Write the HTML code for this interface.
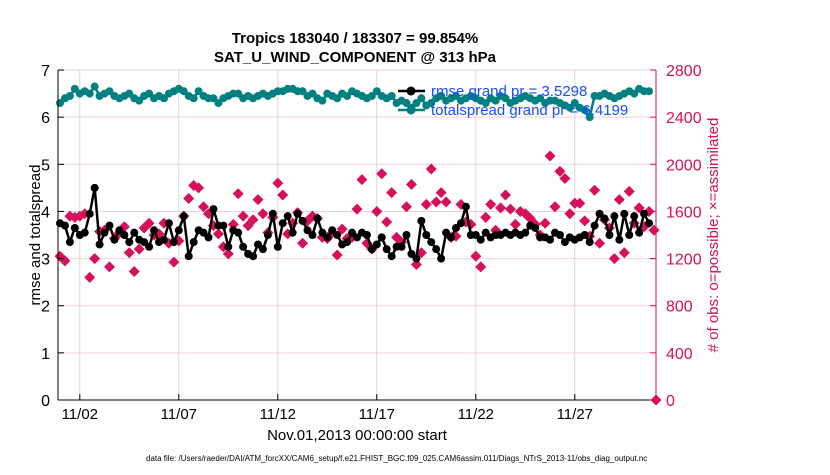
<!DOCTYPE html>
<html><head><meta charset="utf-8"><style>
body{margin:0;background:#fff;width:830px;height:470px;overflow:hidden;font-family:"Liberation Sans",sans-serif}
</style></head><body>
<svg id="chart" width="830" height="470" xmlns="http://www.w3.org/2000/svg" font-family="Liberation Sans, sans-serif">
<g id="grid"></g>
<g id="series"></g>
<g id="axes"></g>
<text x="355" y="43" font-size="15" font-weight="bold" text-anchor="middle">Tropics 183040 / 183307 = 99.854%</text>
<text x="355" y="62" font-size="15" font-weight="bold" text-anchor="middle">SAT_U_WIND_COMPONENT @ 313 hPa</text>
<text transform="translate(40,235) rotate(-90)" font-size="15" text-anchor="middle">rmse and totalspread</text>
<text transform="translate(718,235) rotate(-90)" font-size="15" fill="#d6105a" text-anchor="middle"># of obs: o=possible; ×=assimilated</text>
<text x="357" y="440" font-size="15" text-anchor="middle">Nov.01,2013 00:00:00 start</text>
<text x="146" y="461" font-size="8">data file: /Users/raeder/DAI/ATM_forcXX/CAM6_setup/f.e21.FHIST_BGC.f09_025.CAM6assim.011/Diags_NTrS_2013-11/obs_diag_output.nc</text>
<g>
<line x1="398" y1="91" x2="425" y2="91" stroke="#000" stroke-width="2.5"/><circle cx="411" cy="91" r="4.5" fill="#000"/>
<line x1="398" y1="110" x2="425" y2="110" stroke="#008080" stroke-width="2.5"/><circle cx="411" cy="110" r="4.5" fill="#008080"/>
<text x="431" y="96" font-size="15" fill="#1a4cff">rmse grand pr = 3.5298</text>
<text x="431" y="115" font-size="15" fill="#1a4cff">totalspread grand pr = 6.4199</text>
</g>
</svg>
<script>
const xTickLabels=["11/02","11/07","11/12","11/17","11/22","11/27"];
const xTickDays=[1,6,11,16,21,26];
const yTicks=[0,1,2,3,4,5,6,7];
const obsTicks=[0,400,800,1200,1600,2000,2400,2800];
const rmse=[3.75,3.7,3.35,3.65,3.5,3.55,3.95,4.5,3.3,3.55,3.7,3.4,3.6,3.5,3.35,3.55,3.4,3.35,3.25,3.6,3.35,3.4,3.75,3.35,3.6,3.9,3.05,3.35,3.6,3.55,3.45,4.05,3.7,3.7,3.25,3.6,3.55,3.25,3.1,3.05,3.3,3.2,3.5,3.95,3.25,3.75,3.9,3.55,3.95,3.8,3.6,3.5,3.85,3.55,3.45,3.6,3.5,3.3,3.35,3.55,3.45,3.55,3.5,3.2,3.3,3.45,3.2,3.05,3.25,3.25,3.5,3.1,3.0,3.8,3.5,3.35,3.2,3.0,3.55,3.45,3.65,3.75,4.1,3.5,3.5,3.4,3.55,3.45,3.5,3.5,3.55,3.5,3.55,3.5,3.55,3.7,3.65,3.45,3.45,3.4,3.55,3.5,3.35,3.45,3.4,3.45,3.5,3.35,3.7,3.95,3.85,3.5,3.9,3.4,3.95,3.5,3.9,3.55,3.95,3.75];
const spread=[6.3,6.4,6.45,6.6,6.5,6.55,6.5,6.65,6.45,6.5,6.55,6.45,6.4,6.45,6.5,6.4,6.35,6.45,6.5,6.4,6.45,6.4,6.5,6.55,6.6,6.55,6.45,6.4,6.55,6.45,6.4,6.4,6.3,6.4,6.45,6.5,6.5,6.4,6.45,6.4,6.45,6.5,6.45,6.5,6.55,6.55,6.6,6.6,6.55,6.55,6.45,6.5,6.4,6.35,6.5,6.45,6.4,6.5,6.45,6.55,6.5,6.45,6.4,6.45,6.55,6.45,6.4,6.45,6.3,6.35,6.3,6.2,6.3,6.4,6.25,6.3,6.4,6.45,6.35,6.4,6.45,6.35,6.4,6.45,6.4,6.35,6.3,6.4,6.35,6.45,6.4,6.3,6.35,6.4,6.45,6.4,6.35,6.4,6.3,6.35,6.35,6.3,6.25,6.2,6.3,6.2,6.15,6.0,6.45,6.45,6.5,6.45,6.4,6.45,6.5,6.55,6.5,6.6,6.55,6.55];
const obsCount=[1220,1180,1560,1550,1560,1580,1040,1200,1430,1440,1130,1370,1420,1470,1250,1090,1280,1460,1500,1400,1410,1500,1330,1170,1350,1560,1710,1820,1800,1640,1580,1480,1410,1300,1240,1490,1750,1560,1480,1530,1700,1580,1420,1550,1840,1740,1410,1500,1590,1330,1520,1560,1540,1380,1370,1420,1230,1450,1370,1380,1620,1870,1330,1280,1600,1920,1510,1760,1380,1340,1640,1830,1150,1250,1660,1960,1680,1760,1680,1380,1390,1660,1510,1490,1220,1130,1550,1660,1440,1630,1740,1620,1490,1600,1580,1540,1490,1400,1500,2070,1640,1940,1880,1580,1670,1670,1520,1390,1780,1330,1530,1460,1200,1700,1250,1770,1500,1630,1470,1600,1440];
const X0=60,DAY=19.8,Y0=400,UNIT=47.14,PL=58,PR=656,PT=70;
function xs(t){return X0+t*DAY;}
function yl(v){return Y0-v*UNIT;}
function yr(n){return Y0-n/400*UNIT;}
const NS="http://www.w3.org/2000/svg";
function mk(tag,attrs,parent){const e=document.createElementNS(NS,tag);for(const k in attrs)e.setAttribute(k,attrs[k]);parent.appendChild(e);return e;}
const grid=document.getElementById('grid'),ser=document.getElementById('series'),ax=document.getElementById('axes');
obsTicks.forEach((n,i)=>{if(i===0)return;const l=mk('line',{x1:PL,x2:PR,y1:yr(n),y2:yr(n),stroke:'#f4d0dc','stroke-width':1},grid);

});
xTickDays.forEach((d,i)=>{const x=xs(d);const l=mk('line',{x1:x,x2:x,y1:PT,y2:Y0,stroke:'#d8d8d8','stroke-width':1},grid);


const tk=mk('line',{x1:x,x2:x,y1:Y0,y2:Y0-6,stroke:'#000'},ax);


const t=mk('text',{x:x,y:419,'font-size':15,'text-anchor':'middle'},ax);t.textContent=xTickLabels[i];

});
// obs diamonds
const pts=obsCount.map((n,i)=>[xs(i*0.25),yr(n)]);
pts.push([PR,yr(0)]);
pts.forEach(p=>{const d=mk('path',{d:`M${p[0]},${p[1]-5.5}L${p[0]+5.5},${p[1]}L${p[0]},${p[1]+5.5}L${p[0]-5.5},${p[1]}Z`,fill:'#d6105a'},ser);

});
function line(vals,color,name){const p=vals.map((v,i)=>xs(i*0.25).toFixed(1)+','+yl(v).toFixed(1)).join(' ');
const pl=mk('polyline',{points:p,fill:'none',stroke:color,'stroke-width':2.5},ser);


vals.forEach((v,i)=>{const c=mk('circle',{cx:xs(i*0.25),cy:yl(v),r:4,fill:color},ser);

});}
line(spread,'#008080','totalspread');
line(rmse,'#000','rmse');
// axes
const la=mk('line',{x1:PL,x2:PL,y1:PT,y2:Y0,stroke:'#000'},ax);


const ba=mk('line',{x1:PL,x2:PR,y1:Y0,y2:Y0,stroke:'#000'},ax);


const ra=mk('line',{x1:PR,x2:PR,y1:PT,y2:Y0,stroke:'#d6105a'},ax);


yTicks.forEach(v=>{const y=yl(v);const tk=mk('line',{x1:PL,x2:PL+6,y1:y,y2:y,stroke:'#000'},ax);


const t=mk('text',{x:PL-8,y:y+6,'font-size':16,'text-anchor':'end'},ax);t.textContent=v;

});
obsTicks.forEach(n=>{const y=yr(n);const tk=mk('line',{x1:PR-6,x2:PR,y1:y,y2:y,stroke:'#d6105a'},ax);


const t=mk('text',{x:PR+10,y:y+6,'font-size':16,fill:'#d6105a'},ax);t.textContent=n;

});
</script>
</body></html>
